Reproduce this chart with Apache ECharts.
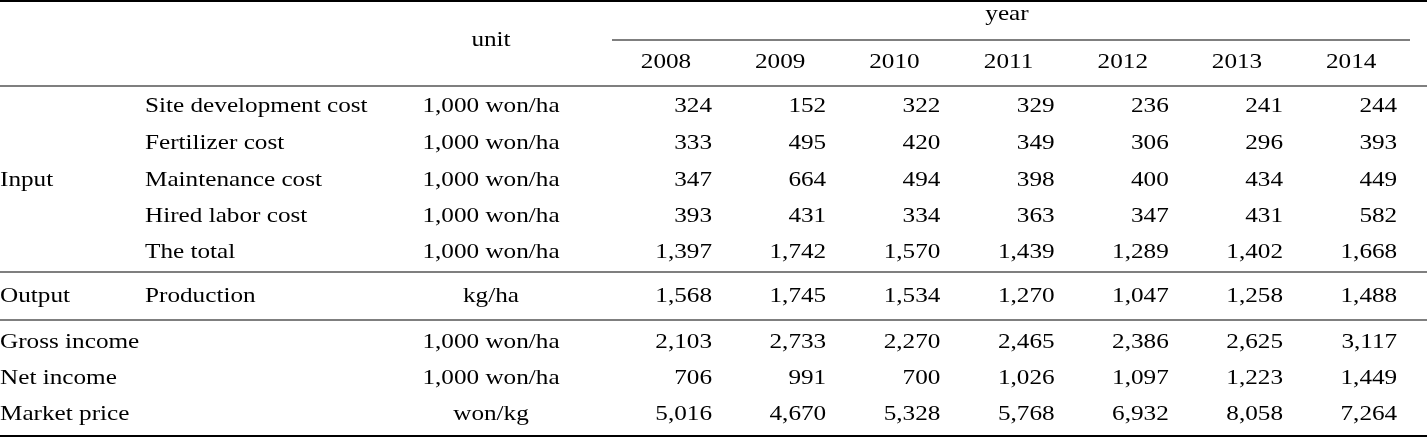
<!DOCTYPE html>
<html><head><meta charset="utf-8">
<script src="https://cdn.jsdelivr.net/npm/echarts@6/dist/echarts.min.js"></script>
<style>html,body{margin:0;padding:0;background:#fff}#c{width:1427px;height:438px}</style>
</head><body><div id="c"></div>
<script>
const years = ['2008','2009','2010','2011','2012','2013','2014'];
const groups = ['Input','','','','','Output','Gross income','Net income','Market price'];
const items = ['Site development cost','Fertilizer cost','Maintenance cost','Hired labor cost','The total','Production','','',''];
const units = ['1,000 won/ha','1,000 won/ha','1,000 won/ha','1,000 won/ha','1,000 won/ha','kg/ha','1,000 won/ha','1,000 won/ha','won/kg'];
const siteCost = ['324','152','322','329','236','241','244'];
const fertCost = ['333','495','420','349','306','296','393'];
const maintCost = ['347','664','494','398','400','434','449'];
const laborCost = ['393','431','334','363','347','431','582'];
const totalCost = ['1,397','1,742','1,570','1,439','1,289','1,402','1,668'];
const production = ['1,568','1,745','1,534','1,270','1,047','1,258','1,488'];
const grossIncome = ['2,103','2,733','2,270','2,465','2,386','2,625','3,117'];
const netIncome = ['706','991','700','1,026','1,097','1,223','1,449'];
const marketPrice = ['5,016','4,670','5,328','5,768','6,932','8,058','7,264'];
const rows = [siteCost,fertCost,maintCost,laborCost,totalCost,production,grossIncome,netIncome,marketPrice];

const font = '21px "Liberation Serif", "DejaVu Serif", serif';
const rowY = [106,143,180,216,252,296,342,378,414];
const colRight = x => 712 + x*114.2;
const g = [];
function t(x,y,s,align){g.push({type:'text',x:x,y:y,scaleX:1.2,style:{text:s,font:font,fill:'#000',align:align||'left',verticalAlign:'middle'}});}
function l(x1,y,x2,w){g.push({type:'line',shape:{x1:x1,y1:y,x2:x2,y2:y},style:{stroke:'#000',lineWidth:w||1.2}});}
l(0,1,1427,2); l(612,40,1410,1.2); l(0,86,1427,1.2); l(0,272,1427,1.2); l(0,320,1427,1.2); l(0,436,1427,2);
t(1007,14,'year','center'); t(491,40,'unit','center');
years.forEach((y,i)=>t(colRight(i)-46,62,y,'center'));
t(0,180,groups[0]);
rows.forEach((r,ri)=>{
  const y=rowY[ri];
  if(ri>=5 && groups[ri]) t(0,y,groups[ri]);
  if(items[ri]) t(145,y,items[ri]);
  t(491,y,units[ri],'center');
  r.forEach((v,ci)=>t(colRight(ci),y,v,'right'));
});
const ch = echarts.init(document.getElementById('c'));
ch.setOption({animation:false,graphic:g});
</script></body></html>
